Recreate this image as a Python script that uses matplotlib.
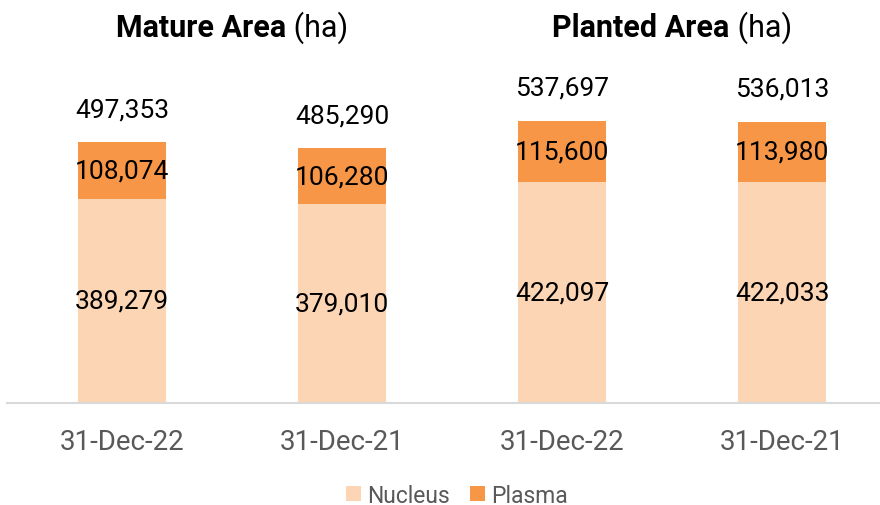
import matplotlib
matplotlib.use("Agg")
import matplotlib.pyplot as plt
import numpy as np

# data
categories = ['31-Dec-22', '31-Dec-21', '31-Dec-22', '31-Dec-21']
nucleus = [389279, 379010, 422097, 422033]
plasma = [108074, 106280, 115600, 113980]
group_titles = ['Mature Area', 'Planted Area']
group_unit = '(ha)'

c_nucleus = '#FCD5B4'
c_plasma = '#F79646'
grey = '#595959'

plt.rcParams['font.family'] = ['Roboto', 'DejaVu Sans']

fig = plt.figure(figsize=(8.8, 5.06), dpi=100)
ax = fig.add_axes([7 / 880, 102 / 506, 873 / 880, 404 / 506])

x = np.arange(len(categories))
nucleus = np.array(nucleus)
plasma = np.array(plasma)
totals = nucleus + plasma

ax.bar(x, nucleus, width=0.4, color=c_nucleus, label='Nucleus')
ax.bar(x, plasma, width=0.4, bottom=nucleus, color=c_plasma, label='Plasma')

for i in range(len(x)):
    ax.text(x[i], nucleus[i] / 2, f'{nucleus[i]:,}', ha='center', va='center',
            fontsize=19, color='black')
    ax.text(x[i], nucleus[i] + plasma[i] / 2, f'{plasma[i]:,}', ha='center',
            va='center', fontsize=19, color='black')
    ax.text(x[i], totals[i] + 40000, f'{totals[i]:,}', ha='center',
            va='bottom', fontsize=19, color='black')

ax.set_xlim(-0.5227, 3.445)
ax.set_ylim(0, 770000)
ax.set_xticks(x)
ax.set_xticklabels(categories, fontsize=20, color=grey)
ax.tick_params(axis='x', length=0, pad=18)
ax.set_yticks([])
for s in ['top', 'right', 'left']:
    ax.spines[s].set_visible(False)
ax.spines['bottom'].set_color('#D9D9D9')
ax.spines['bottom'].set_linewidth(1.5)

# group titles: bold name + normal unit, centred over each pair of bars
fig.canvas.draw()
r = fig.canvas.get_renderer()
for g, name in enumerate(group_titles):
    cx = ax.transData.transform((2 * g + 0.5, 0))[0]
    t1 = fig.text(0, 0, name, fontsize=22, fontweight='bold')
    t2 = fig.text(0, 0, ' ' + group_unit, fontsize=22)
    w1 = t1.get_window_extent(r).width
    w2 = t2.get_window_extent(r).width
    left = cx - (w1 + w2) / 2
    y = 1 - 28 / 506
    t1.set_position((left / 880, y))
    t2.set_position(((left + w1) / 880, y))
    t1.set_va('center')
    t2.set_va('center')

ax.legend(loc='center', bbox_to_anchor=(0.5155, -0.228), ncol=2, frameon=False,
          fontsize=16.5, labelcolor=grey, handlelength=0.65, handleheight=0.65,
          handletextpad=0.3, columnspacing=0.85)

fig.savefig('out.png', dpi=100)
